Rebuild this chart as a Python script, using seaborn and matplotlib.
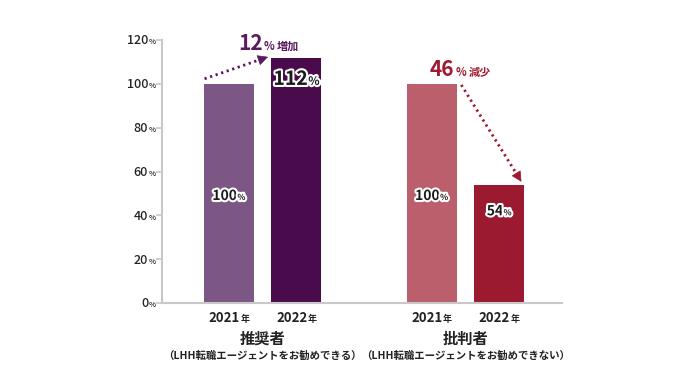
import math
import matplotlib
matplotlib.use("Agg")
import matplotlib.pyplot as plt
import matplotlib.patheffects as pe
import seaborn as sns
import pandas as pd

# ---- data ----
groups = ["推奨者", "批判者"]
subtitles = ["（LHH転職エージェントをお勧めできる）", "（LHH転職エージェントをお勧めできない）"]
years = ["2021", "2022"]
values = [100, 112, 100, 54]
changes = ["12", "46"]
change_words = ["増加", "減少"]
yticks = [0, 20, 40, 60, 80, 100, 120]

bar_colors = ["#7C5684", "#4A0B4C", "#BB5F6D", "#9C1A30"]
change_colors = ["#5A1A5E", "#A0192F"]
TXT = "#222222"

sns.set_theme(style="white")
plt.rcParams["font.family"] = ["Noto Sans CJK JP", "DejaVu Sans"]

positions = [0, 1, 3, 4]
labels = [f"{g}-{y}" for g in groups for y in years]
df = pd.DataFrame({"pos": positions, "value": values, "label": labels})

DPI = 100
fig = plt.figure(figsize=(7, 3.8), dpi=DPI)
ax = fig.add_axes([162 / 700, 1 - 303 / 380, 400 / 700, 263 / 380])

sns.barplot(data=df, x="pos", y="value", hue="label",
            palette=dict(zip(labels, bar_colors)), dodge=False,
            native_scale=True, width=0.74, legend=False, ax=ax,
            saturation=1, edgecolor="none")

ax.set_xlim(-0.99, 4.93)
ax.set_ylim(0, 120)
ax.set_xlabel("")
ax.set_ylabel("")
ax.set_xticks([])
ax.set_yticks(yticks)
ax.set_yticklabels([])
ax.tick_params(axis="y", length=4, width=1.2, color="#c8c8c8", left=True)
for s in ["top", "right"]:
    ax.spines[s].set_visible(False)
for s in ["left", "bottom"]:
    ax.spines[s].set_color("#c8c8c8")
    ax.spines[s].set_linewidth(1.5)

renderer = fig.canvas.get_renderer()


def compose(parts, x, y, xycoords="data", ha="center", dx=0, dy=0,
            color=TXT, stroke=False, weight="bold"):
    """parts: list of (text, size, gap_before_pt) sharing one baseline."""
    effects = [pe.withStroke(linewidth=3, foreground="white")] if stroke else None
    objs = []
    for txt, size, gap in parts:
        t = ax.annotate(txt, (x, y), xycoords=xycoords, xytext=(0, dy),
                        textcoords="offset points", ha="left", va="baseline",
                        fontsize=size, fontweight=weight, color=color,
                        path_effects=effects, annotation_clip=False)
        objs.append((t, gap))
    widths = [t.get_window_extent(renderer).width * 72 / DPI for t, _ in objs]
    total = sum(widths) + sum(g for _, g in objs)
    if ha == "center":
        cur = -total / 2
    elif ha == "right":
        cur = -total
    else:
        cur = 0
    cur += dx
    for (t, gap), w in zip(objs, widths):
        cur += gap
        t.set_position((cur, dy))
        cur += w


# y tick labels
for t in yticks:
    compose([(str(t), 9, 0), ("%", 5.5, 0.3)], 0, t,
            xycoords=("axes fraction", "data"), ha="right", dx=-4.5, dy=-3.2,
            weight="medium")

# x year labels
for p, lab in zip(positions, labels):
    yr = lab.split("-")[1]
    compose([(yr, 9.5, 0), ("年", 6.5, 0.3)], p, 0,
            xycoords=("data", "axes fraction"), ha="center", dy=-14)

# group labels
for i, (g, sub) in enumerate(zip(groups, subtitles)):
    cx = (positions[2 * i] + positions[2 * i + 1]) / 2
    ax.annotate(g, (cx, 0), xycoords=("data", "axes fraction"),
                xytext=(0, -29.5), textcoords="offset points", ha="center",
                va="baseline", fontsize=11, fontweight="bold", color=TXT,
                annotation_clip=False)
    ax.annotate(sub, (cx, 0), xycoords=("data", "axes fraction"),
                xytext=(0, -40), textcoords="offset points", ha="center",
                va="baseline", fontsize=7.5, fontweight="bold", color=TXT,
                annotation_clip=False)

# value labels inside bars
inside_y = [47, 99.5, 47, 40]
inside_size = [10, 14, 10, 10]
for p, v, yv, sz in zip(positions, values, inside_y, inside_size):
    compose([(str(v), sz, 0), ("%", sz * 0.6, 0.3)], p, yv, stroke=True,
            color="#1a1a1a")


# change arrows: dotted shaft + solid head
def dotted_arrow(start, tip, color, head_pts=7):
    disp = ax.transData
    sx, sy = disp.transform(start)
    tx, ty = disp.transform(tip)
    L = math.hypot(tx - sx, ty - sy)
    ux, uy = (tx - sx) / L, (ty - sy) / L
    hl = head_pts * DPI / 72
    base = disp.inverted().transform((tx - ux * hl, ty - uy * hl))
    ax.plot([start[0], base[0]], [start[1], base[1]], color=color, lw=2,
            linestyle=(0, (0.8, 1.3)), dash_capstyle="butt")
    ax.annotate("", xy=tip, xytext=base,
                arrowprops=dict(arrowstyle="-|>,head_length=0.55,head_width=0.28",
                                lw=0.5, color=color, shrinkA=0, shrinkB=0))


dotted_arrow((-0.36, 102.3), (0.58, 112.3), change_colors[0])
dotted_arrow((3.44, 99.5), (4.33, 55.3), change_colors[1])

# change labels
compose([(changes[0], 15, 0), ("%", 8, 1), (change_words[0], 8, 1.5)],
        0.133, 115.5, ha="left", color=change_colors[0])
compose([(changes[1], 15, 0), ("%", 8, 1), (change_words[1], 8, 1.5)],
        2.97, 103.6, ha="left", color=change_colors[1])

fig.savefig("out.png", dpi=DPI)
